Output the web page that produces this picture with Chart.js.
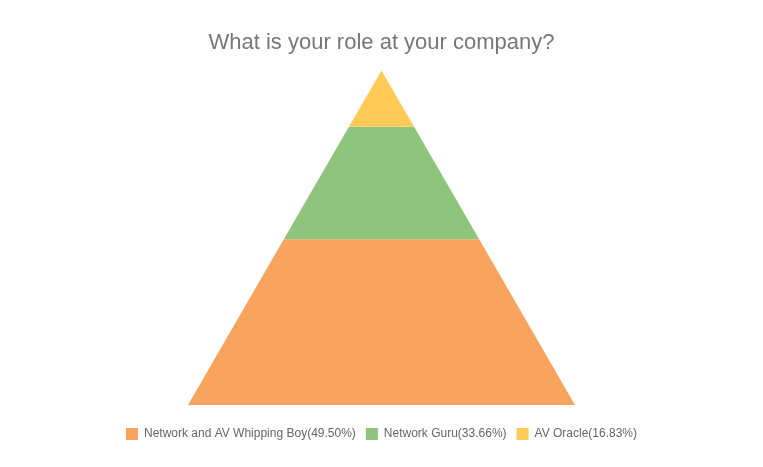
<!DOCTYPE html>
<html>
<head>
<meta charset="utf-8">
<script src="https://cdn.jsdelivr.net/npm/chart.js@4.4.0/dist/chart.umd.min.js"></script>
<style>
html,body{margin:0;padding:0;background:#fff;}
#wrap{width:763px;height:467px;position:relative;}
</style>
</head>
<body>
<div id="wrap"><canvas id="c"></canvas></div>
<script>
// Data (bottom to top of pyramid)
const categories = ['Network and AV Whipping Boy', 'Network Guru', 'AV Oracle'];
const percentages = [49.50, 33.66, 16.83];
const colors = ['#F9A45E', '#8FC47C', '#FFCA57'];
const chartTitle = 'What is your role at your company?';

// Build trapezoid corners in data space: y is cumulative share, half-width shrinks linearly to apex
const total = percentages.reduce((a, b) => a + b, 0);
let cum = 0;
const datasets = categories.map((name, i) => {
  const y0 = cum / total * 100;
  cum += percentages[i];
  const y1 = cum / total * 100;
  const hw0 = 50 * (1 - y0 / 100);
  const hw1 = 50 * (1 - y1 / 100);
  return {
    label: name + '(' + percentages[i].toFixed(2) + '%)',
    data: [{x: -hw0, y: y0}, {x: hw0, y: y0}, {x: hw1, y: y1}, {x: -hw1, y: y1}],
    backgroundColor: colors[i],
    borderColor: colors[i],
    borderWidth: 0,
    pointRadius: 0,
    pointHoverRadius: 0,
    showLine: false
  };
});

const polygonFill = {
  id: 'polygonFill',
  beforeDatasetsDraw(chart) {
    const ctx = chart.ctx;
    chart.data.datasets.forEach((ds, i) => {
      const meta = chart.getDatasetMeta(i);
      if (meta.hidden) return;
      const pts = meta.data;
      ctx.save();
      ctx.beginPath();
      pts.forEach((p, k) => { if (k === 0) ctx.moveTo(p.x, p.y); else ctx.lineTo(p.x, p.y); });
      ctx.closePath();
      ctx.fillStyle = ds.backgroundColor;
      ctx.fill();
      ctx.restore();
    });
  }
};

const xHalfSpan = 50 * 763 / 387;

new Chart(document.getElementById('c'), {
  type: 'scatter',
  data: { datasets },
  plugins: [polygonFill],
  options: {
    responsive: true,
    maintainAspectRatio: false,
    animation: false,
    layout: { padding: { top: 30, left: 0, right: 0, bottom: 17 } },
    scales: {
      x: {
        type: 'linear', min: -xHalfSpan, max: xHalfSpan, display: true,
        grid: { display: false }, border: { display: false }, ticks: { display: false },
        afterFit: (s) => { s.height = 13; }
      },
      y: { type: 'linear', min: 0, max: 100, display: false }
    },
    plugins: {
      title: {
        display: true,
        text: chartTitle,
        color: '#777777',
        font: { family: '"Liberation Sans", Arial, sans-serif', size: 22, weight: 'normal' },
        padding: { top: 0, bottom: 14 }
      },
      legend: {
        position: 'bottom',
        labels: {
          color: '#666666',
          boxWidth: 12,
          boxHeight: 12,
          padding: 10,
          font: { family: '"Liberation Sans", Arial, sans-serif', size: 12 }
        }
      },
      tooltip: { enabled: false }
    }
  }
});
</script>
</body>
</html>
